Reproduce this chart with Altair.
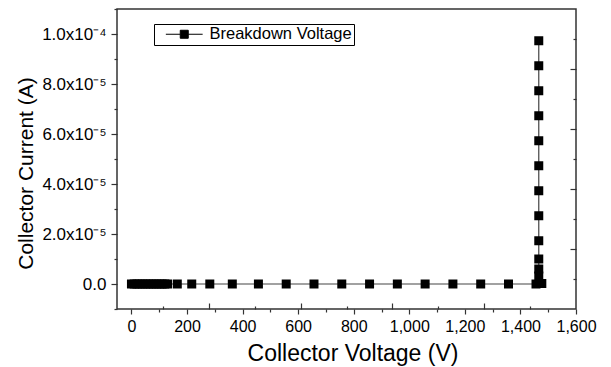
import altair as alt
import pandas as pd

# ---- data ----
voltage = [0, 10, 20, 30, 40, 50, 60, 70, 80, 90, 100, 110, 120, 130,
           165, 217, 282, 363, 457, 557, 657, 757, 857, 957, 1057, 1157, 1257, 1357,
           1456, 1477,
           1466, 1466, 1466, 1466, 1466, 1466, 1466, 1466, 1466, 1466, 1466, 1466]
current = [0.0, 0.0, 0.0, 0.0, 0.0, 0.0, 0.0, 0.0, 0.0, 0.0, 0.0, 0.0, 0.0, 0.0,
           0.0, 0.0, 0.0, 0.0, 0.0, 0.0, 0.0, 0.0, 0.0, 0.0, 0.0, 0.0, 0.0, 0.0,
           0.0, 0.02e-5,
           0.32e-5, 0.6e-5, 1.0e-5, 1.73e-5, 2.73e-5, 3.73e-5,
           4.73e-5, 5.73e-5, 6.73e-5, 7.73e-5, 8.73e-5, 9.73e-5]
series_name = "Breakdown Voltage"

x_domain = [-52, 1600]
y_domain = [-1e-5, 1.1e-4]
x_major = [0, 200, 400, 600, 800, 1000, 1200, 1400, 1600]
x_minor = [100, 300, 500, 700, 900, 1100, 1300, 1500]
y_major = [0.0, 2e-5, 4e-5, 6e-5, 8e-5, 1e-4]
y_major_labels = ["0.0", "2.0x10\u207b\u2075", "4.0x10\u207b\u2075", "6.0x10\u207b\u2075",
                  "8.0x10\u207b\u2075", "1.0x10\u207b\u2074"]
y_minor = [-1e-5, 1e-5, 3e-5, 5e-5, 7e-5, 9e-5, 1.1e-4]

df = pd.DataFrame({
    "V": voltage,
    "I": current,
    "idx": list(range(len(voltage))),
    "series": [series_name] * len(voltage),
})

FONT = "Liberation Sans"
AX = "#333333"

# frame ticks on top/right: 10 equal divisions of the frame
top_ticks = [x_domain[0] + k * (x_domain[1] - x_domain[0]) / 10 for k in range(1, 10)]
right_ticks = [y_domain[0] + k * (y_domain[1] - y_domain[0]) / 10 for k in range(1, 10)]
top_long = top_ticks[1::2]
right_long = right_ticks[1::2]

def js(lst):
    return "[" + ",".join(repr(float(v)) for v in lst) + "]"

y_label_expr = ("[" + ",".join("'" + s + "'" for s in y_major_labels) + "]"
                "[indexof(" + js(y_major) + ", datum.value)] || ''")
x_label_expr = ("indexof(" + js(x_major) + ", datum.value) >= 0 ? format(datum.value, ',') : ''")

x_scale = alt.Scale(domain=x_domain, nice=False, zero=False)
y_scale = alt.Scale(domain=y_domain, nice=False, zero=False)

x_axis = alt.Axis(
    title="Collector Voltage (V)", values=sorted(x_major + x_minor), labelExpr=x_label_expr,
    grid=False, domain=False, tickColor=AX, tickWidth=1.2,
    tickSize={"condition": {"test": "indexof(" + js(x_major) + ", datum.value) >= 0", "value": 5}, "value": 3},
    labelFont=FONT, labelFontSize=16, labelColor="black", labelPadding=4, labelFlush=False,
    titleFont=FONT, titleFontSize=23, titleFontWeight="normal", titleColor="black", titlePadding=8,
    titleX=235.5, titleAlign="center",
)
y_axis = alt.Axis(
    title="Collector Current (A)", values=sorted(y_major + y_minor), labelExpr=y_label_expr,
    grid=False, domain=False, tickColor=AX, tickWidth=1.2,
    tickSize={"condition": {"test": "indexof(" + js(y_major) + ", datum.value) >= 0", "value": 6}, "value": 3},
    labelFont=FONT, labelFontSize=17, labelColor="black", labelPadding=5, labelFlush=False,
    titleFont=FONT, titleFontSize=21, titleFontWeight="normal", titleColor="black", titlePadding=5,
    titleY=164,
)

top_axis = alt.Axis(
    orient="top", values=top_ticks, labels=False, ticks=False, domain=False, title=None,
    grid=True, gridColor=AX, gridOpacity=1, gridWidth=1.2,
    gridDash={"condition": {"test": "indexof(" + js(top_long) + ", datum.value) >= 0", "value": [6, 1000]},
              "value": [3, 1000]},
)
right_axis = alt.Axis(
    orient="right", values=right_ticks, labels=False, ticks=False, domain=False, title=None,
    grid=True, gridColor=AX, gridOpacity=1, gridWidth=1.2,
    gridDash={"condition": {"test": "indexof(" + js(right_long) + ", datum.value) >= 0", "value": [6, 1000]},
              "value": [3, 1000]},
)

LEG_PATH = "M-4.6,0H-1M1,0H4.6M-1,-1H1V1H-1Z"

line = alt.Chart(df).mark_line(color="#444444", strokeWidth=1.2).encode(
    x=alt.X("V:Q", scale=x_scale, axis=x_axis),
    y=alt.Y("I:Q", scale=y_scale, axis=y_axis),
    order=alt.Order("idx:Q"),
)

points = alt.Chart(df).mark_point(shape="square", filled=True, size=81, opacity=1).encode(
    x=alt.X("V:Q", scale=x_scale, axis=top_axis),
    y=alt.Y("I:Q", scale=y_scale, axis=right_axis),
    color=alt.Color("series:N", scale=alt.Scale(range=["black"]), legend=alt.Legend(
        title=None, orient="none", legendX=37, legendY=15,
        strokeColor="black", fillColor="white", padding=2,
        symbolType=LEG_PATH, symbolSize=64, symbolOffset=20, labelOffset=17,
        symbolStrokeColor="black", symbolFillColor="black", symbolStrokeWidth=1, symbolOpacity=1,
        labelFont=FONT, labelFontSize=16.5, labelColor="black",
    )),
)

chart = alt.layer(line, points).resolve_axis(x="independent", y="independent").properties(
    width=459, height=300,
    autosize=alt.AutoSizeParams(type="none"),
    padding={"left": 117, "top": 9, "right": 35, "bottom": 58},
    background="white",
).configure_view(stroke=AX, strokeWidth=1.5)

chart.save("out.html", embed_options={"renderer": "svg", "actions": False})
